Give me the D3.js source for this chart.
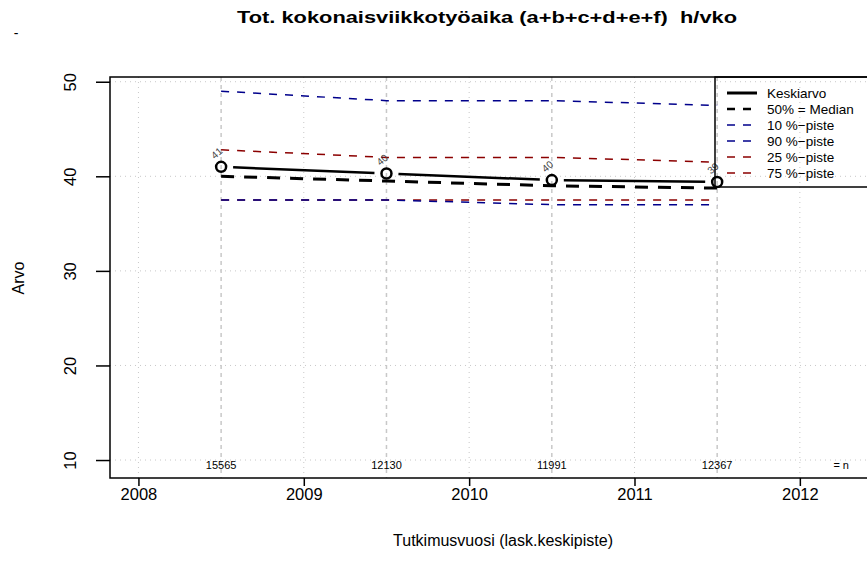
<!DOCTYPE html>
<html>
<head>
<meta charset="utf-8">
<script src="https://cdn.jsdelivr.net/npm/d3@7"></script>
<style>
body { margin: 0; background: #fff; }
#container { width: 867px; height: 576px; overflow: hidden; }
text { font-family: "Liberation Sans", Arial, sans-serif; }
</style>
</head>
<body>
<div id="container"></div>
<script>
////////// DATA

var years = [2008.5, 2009.5, 2010.5, 2011.5];
var meanVals = [41.0, 40.3, 39.6, 39.4]; // Keskiarvo
var meanLabels = ["41", "40", "40", "39"];
var medianVals = [40, 39.5, 39, 38.75]; // 50% = Median
var p10Vals = [37.5, 37.5, 37, 37];
var p90Vals = [49, 48, 48, 47.5];
var p25Vals = [37.5, 37.5, 37.5, 37.5];
var p75Vals = [42.8, 42, 42, 41.5];
var nVals = ["15565", "12130", "11991", "12367"];
var xTicks = [2008, 2009, 2010, 2011, 2012];
var yTicks = [10, 20, 30, 40, 50];

var blue = "#00008b";
var red = "#8b0000";

var legendList = [
	{name: "Keskiarvo", color: "#000", width: 3, dash: null},
	{name: "50% = Median", color: "#000", width: 2.5, dash: "8,8"},
	{name: "10 %\u2212piste", color: blue, width: 1.5, dash: "8,8"},
	{name: "90 %\u2212piste", color: blue, width: 1.5, dash: "8,8"},
	{name: "25 %\u2212piste", color: red, width: 1.5, dash: "8,8"},
	{name: "75 %\u2212piste", color: red, width: 1.5, dash: "8,8"}
];

////////// DRAWING

var pLeft = 110, pRight = 885, pTop = 77, pBottom = 478;

var svg = d3.select("#container").append("svg")
	.attr("width", 867)
	.attr("height", 576);

var x = d3.scaleLinear().domain([2007.828, 2012.515]).range([pLeft, pRight]);
var y = d3.scaleLinear().domain([8.1, 50.5]).range([pBottom, pTop]);

// dotted grid at ticks
svg.selectAll(".vgrid").data(xTicks).enter().append("line")
	.attr("x1", function(d) { return x(d); })
	.attr("x2", function(d) { return x(d); })
	.attr("y1", pTop).attr("y2", pBottom)
	.style("stroke", "#c8c8c8").style("stroke-width", 1)
	.style("stroke-dasharray", "1,4");
svg.selectAll(".hgrid").data(yTicks).enter().append("line")
	.attr("x1", pLeft).attr("x2", pRight)
	.attr("y1", function(d) { return y(d); })
	.attr("y2", function(d) { return y(d); })
	.style("stroke", "#c8c8c8").style("stroke-width", 1)
	.style("stroke-dasharray", "1,4");

// dashed vertical lines at data years
svg.selectAll(".ygrid").data(years).enter().append("line")
	.attr("x1", function(d) { return x(d); })
	.attr("x2", function(d) { return x(d); })
	.attr("y1", pTop).attr("y2", pBottom)
	.style("stroke", "#c8c8c8").style("stroke-width", 1.5)
	.style("stroke-dasharray", "4,4");

// series lines
function drawSeries(vals, color, width, dash)
{
	var line = d3.line()
		.x(function(d, i) { return x(years[i]); })
		.y(function(d) { return y(d); });
	svg.append("path")
		.datum(vals)
		.attr("d", line)
		.style("fill", "none")
		.style("stroke", color)
		.style("stroke-width", width)
		.style("stroke-dasharray", dash);
}
drawSeries(p25Vals, red, 1.5, "8,8");
drawSeries(p10Vals, blue, 1.5, "8,8");
drawSeries(p75Vals, red, 1.5, "8,8");
drawSeries(p90Vals, blue, 1.5, "8,8");
drawSeries(medianVals, "#000", 3, "13,10");

// mean: segments with gaps around points (type "b")
var gap = 12;
for (var i = 0; i < years.length - 1; i++)
{
	var x0 = x(years[i]), y0 = y(meanVals[i]);
	var x1 = x(years[i + 1]), y1 = y(meanVals[i + 1]);
	var len = Math.sqrt((x1 - x0) * (x1 - x0) + (y1 - y0) * (y1 - y0));
	var ux = (x1 - x0) / len, uy = (y1 - y0) / len;
	svg.append("line")
		.attr("x1", x0 + ux * gap).attr("y1", y0 + uy * gap)
		.attr("x2", x1 - ux * gap).attr("y2", y1 - uy * gap)
		.style("stroke", "#000").style("stroke-width", 2.5);
}
svg.selectAll(".meanPt").data(meanVals).enter().append("circle")
	.attr("cx", function(d, i) { return x(years[i]); })
	.attr("cy", function(d) { return y(d); })
	.attr("r", 5)
	.style("fill", "none").style("stroke", "#000").style("stroke-width", 2.5);

// mean labels
svg.selectAll(".meanLbl").data(meanVals).enter().append("text")
	.attr("transform", function(d, i) {
		return "translate(" + (x(years[i]) - 2) + "," + (y(d) - 11) + ") rotate(-40)";
	})
	.attr("text-anchor", "middle")
	.style("font-size", "10px")
	.style("fill", "#444")
	.text(function(d, i) { return meanLabels[i]; });

// n labels
svg.selectAll(".nLbl").data(nVals).enter().append("text")
	.attr("x", function(d, i) { return x(years[i]); })
	.attr("y", y(10) + 9)
	.attr("text-anchor", "middle")
	.style("font-size", "11px")
	.text(function(d) { return d; });
svg.append("text")
	.attr("x", x(2012.25)).attr("y", y(10) + 9)
	.attr("text-anchor", "middle")
	.style("font-size", "11px")
	.text("= n");

// plot box
svg.append("rect")
	.attr("x", pLeft).attr("y", pTop)
	.attr("width", pRight - pLeft).attr("height", pBottom - pTop)
	.style("fill", "none").style("stroke", "#000").style("stroke-width", 1.5);

// axes
var xAxis = d3.axisBottom(x).tickValues(xTicks).tickSize(8).tickPadding(2).tickFormat(d3.format("d"));
var gx = svg.append("g").attr("transform", "translate(0," + pBottom + ")").call(xAxis);
gx.select(".domain").remove();
gx.selectAll("line").style("stroke-width", 1.5);
gx.selectAll("text").style("font-size", "16.5px").style("font-family", "Liberation Sans, Arial, sans-serif");

var yAxis = d3.axisLeft(y).tickValues(yTicks).tickSize(14).tickFormat(d3.format("d"));
var gy = svg.append("g").attr("transform", "translate(" + pLeft + ",0)").call(yAxis);
gy.select(".domain").remove();
gy.selectAll("line").style("stroke-width", 1.5);
gy.selectAll("text")
	.attr("x", null).attr("dy", null)
	.attr("text-anchor", "middle")
	.attr("transform", "translate(-34,0) rotate(-90)")
	.attr("y", 0)
	.style("font-size", "16.5px")
	.style("font-family", "Liberation Sans, Arial, sans-serif");

// axis titles
svg.append("text")
	.attr("x", 503).attr("y", 546)
	.attr("text-anchor", "middle")
	.style("font-size", "16px")
	.text("Tutkimusvuosi (lask.keskipiste)");
svg.append("text")
	.attr("transform", "translate(24,278) rotate(-90)")
	.attr("text-anchor", "middle")
	.style("font-size", "16px")
	.text("Arvo");

// title
svg.append("text")
	.attr("x", 487).attr("y", 23)
	.attr("text-anchor", "middle")
	.attr("textLength", 500)
	.attr("lengthAdjust", "spacingAndGlyphs")
	.style("font-size", "16.5px")
	.style("font-weight", "bold")
	.style("white-space", "pre")
	.text("Tot. kokonaisviikkotyöaika (a+b+c+d+e+f)  h/vko");
svg.append("text")
	.attr("x", 16).attr("y", 38)
	.attr("text-anchor", "middle")
	.style("font-size", "14px")
	.text("-");

// legend
var lgX = 715, lgTop = pTop, lgBottom = 187;
svg.append("rect")
	.attr("x", lgX).attr("y", lgTop)
	.attr("width", 200).attr("height", lgBottom - lgTop)
	.style("fill", "none").style("stroke", "#000").style("stroke-width", 1.5);
var lg = svg.selectAll(".lg").data(legendList).enter().append("g")
	.attr("transform", function(d, i) { return "translate(0," + (93 + i * 16) + ")"; });
lg.append("line")
	.attr("x1", 727).attr("x2", 757)
	.attr("y1", 0).attr("y2", 0)
	.style("stroke", function(d) { return d.color; })
	.style("stroke-width", function(d) { return d.width; })
	.style("stroke-dasharray", function(d) { return d.dash; });
lg.append("text")
	.attr("x", 767).attr("y", 5)
	.style("font-size", "13.5px")
	.text(function(d) { return d.name; });
</script>
</body>
</html>
